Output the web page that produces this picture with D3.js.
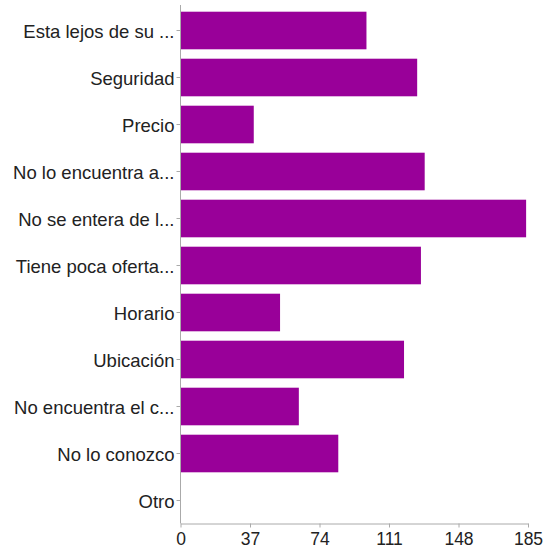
<!DOCTYPE html>
<html>
<head>
<meta charset="utf-8">
<script src="https://cdn.jsdelivr.net/npm/d3@7"></script>
<style>
  html, body { margin: 0; padding: 0; background: #fff; }
  svg { display: block; }
  text { font-family: "Liberation Sans", Arial, Helvetica, sans-serif; fill: #222; }
</style>
</head>
<body>
<svg id="chart" width="547" height="550"></svg>
<script>
// Reasons given (answer labels, truncated as displayed)
const categories = [
  "Esta lejos de su ...",
  "Seguridad",
  "Precio",
  "No lo encuentra a...",
  "No se entera de l...",
  "Tiene poca oferta...",
  "Horario",
  "Ubicación",
  "No encuentra el c...",
  "No lo conozco",
  "Otro"
];
// Number of responses per reason
const counts = [99, 126, 39, 130, 184, 128, 53, 119, 63, 84, 0];
// Axis tick values
const xTicks = [0, 37, 74, 111, 148, 185];

const data = categories.map((c, i) => ({ label: c, value: counts[i] }));

const svg = d3.select("#chart");
const plotLeft = 180.5, plotRight = 528, plotTop = 7, plotBottom = 524, axisY = 523.5;

const x = d3.scaleLinear().domain([0, 185]).range([plotLeft, plotRight]);
const y = d3.scaleBand().domain(categories).range([plotTop, plotBottom])
  .paddingInner(0.2).paddingOuter(0.1);

// bars
svg.append("g").selectAll("rect").data(data).join("rect")
  .attr("x", x(0))
  .attr("y", d => y(d.label))
  .attr("width", d => x(d.value) - x(0))
  .attr("height", y.bandwidth())
  .attr("fill", "#990099");

// y axis
const yAxis = svg.append("g")
  .attr("transform", `translate(${plotLeft},0)`)
  .call(d3.axisLeft(y).tickSize(4).tickSizeOuter(0).tickPadding(2));
yAxis.select(".domain").remove();
yAxis.selectAll(".tick line").attr("stroke", "#aaa");
yAxis.selectAll(".tick text").style("font-size", "18.5px").attr("fill", "#222").attr("dy", "0.4em");
svg.append("line")
  .attr("x1", plotLeft).attr("x2", plotLeft).attr("y1", 5).attr("y2", axisY)
  .attr("stroke", "#aaa");

// x axis
const xAxis = svg.append("g")
  .attr("transform", `translate(0,${axisY})`)
  .call(d3.axisBottom(x).tickValues(xTicks).tickSize(4).tickSizeOuter(0).tickPadding(5));
xAxis.select(".domain").attr("stroke", "#aaa");
xAxis.selectAll(".tick line").attr("stroke", "#aaa");
xAxis.selectAll(".tick text").style("font-size", "17.5px").attr("fill", "#222");
</script>
</body>
</html>
